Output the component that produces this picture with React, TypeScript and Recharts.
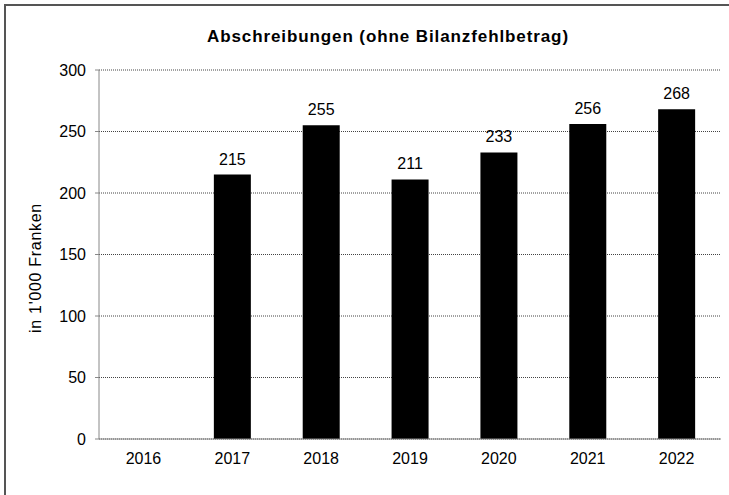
import { BarChart, Bar, XAxis, YAxis, CartesianGrid, LabelList } from "recharts";

const years = ["2016", "2017", "2018", "2019", "2020", "2021", "2022"];
const abschreibungen = [null, 215, 255, 211, 233, 256, 268];
const yTicks = [0, 50, 100, 150, 200, 250, 300];

const chartData = years.map((year, i) => ({
  year,
  value: abschreibungen[i],
}));

const font = "'Liberation Sans', Arial, Helvetica, sans-serif";

export default function App() {
  return (
    <div
      style={{
        position: "fixed",
        left: 0,
        top: 0,
        width: 729,
        height: 495,
        background: "#fff",
        fontFamily: font,
      }}
    >
      <div
        style={{
          position: "absolute",
          left: 4,
          top: 4,
          width: 725,
          height: 491,
          borderTop: "2px solid #555",
          borderLeft: "2px solid #555",
          boxSizing: "border-box",
        }}
      />
      <BarChart
        width={729}
        height={495}
        data={chartData}
        margin={{ top: 70, right: 8, bottom: 26, left: 0 }}
        style={{ position: "absolute", left: 0, top: 0 }}
      >
        <text
          x={388}
          y={42}
          textAnchor="middle"
          fontFamily={font}
          fontSize={17}
          fontWeight="bold"
          letterSpacing={0.9}
          fill="#000"
        >
          Abschreibungen (ohne Bilanzfehlbetrag)
        </text>
        {/* y axis title, placed by hand */}
        <text
          transform="translate(41,268) rotate(-90)"
          textAnchor="middle"
          fontFamily={font}
          fontSize={16}
          letterSpacing={0.7}
          fill="#000"
        >
          in 1'000 Franken
        </text>
        <CartesianGrid
          vertical={false}
          stroke="#444"
          strokeDasharray="1 1"
        />
        <XAxis
          dataKey="year"
          height={30}
          stroke="#888"
          tickLine={false}
          tickSize={0}
          tickMargin={14}
          tick={{ fontSize: 16, fill: "#000", fontFamily: font }}
        />
        <YAxis
          width={99}
          domain={[0, 300]}
          ticks={yTicks}
          interval={0}
          stroke="#888"
          tickSize={4}
          tickMargin={9}
          tick={{ fontSize: 16, fill: "#000", fontFamily: font }}
        />
        <Bar dataKey="value" fill="#000" barSize={37} isAnimationActive={false}>
          <LabelList
            dataKey="value"
            position="top"
            offset={10}
            style={{ fontSize: 16, fill: "#000", fontFamily: font }}
          />
        </Bar>
      </BarChart>
    </div>
  );
}
